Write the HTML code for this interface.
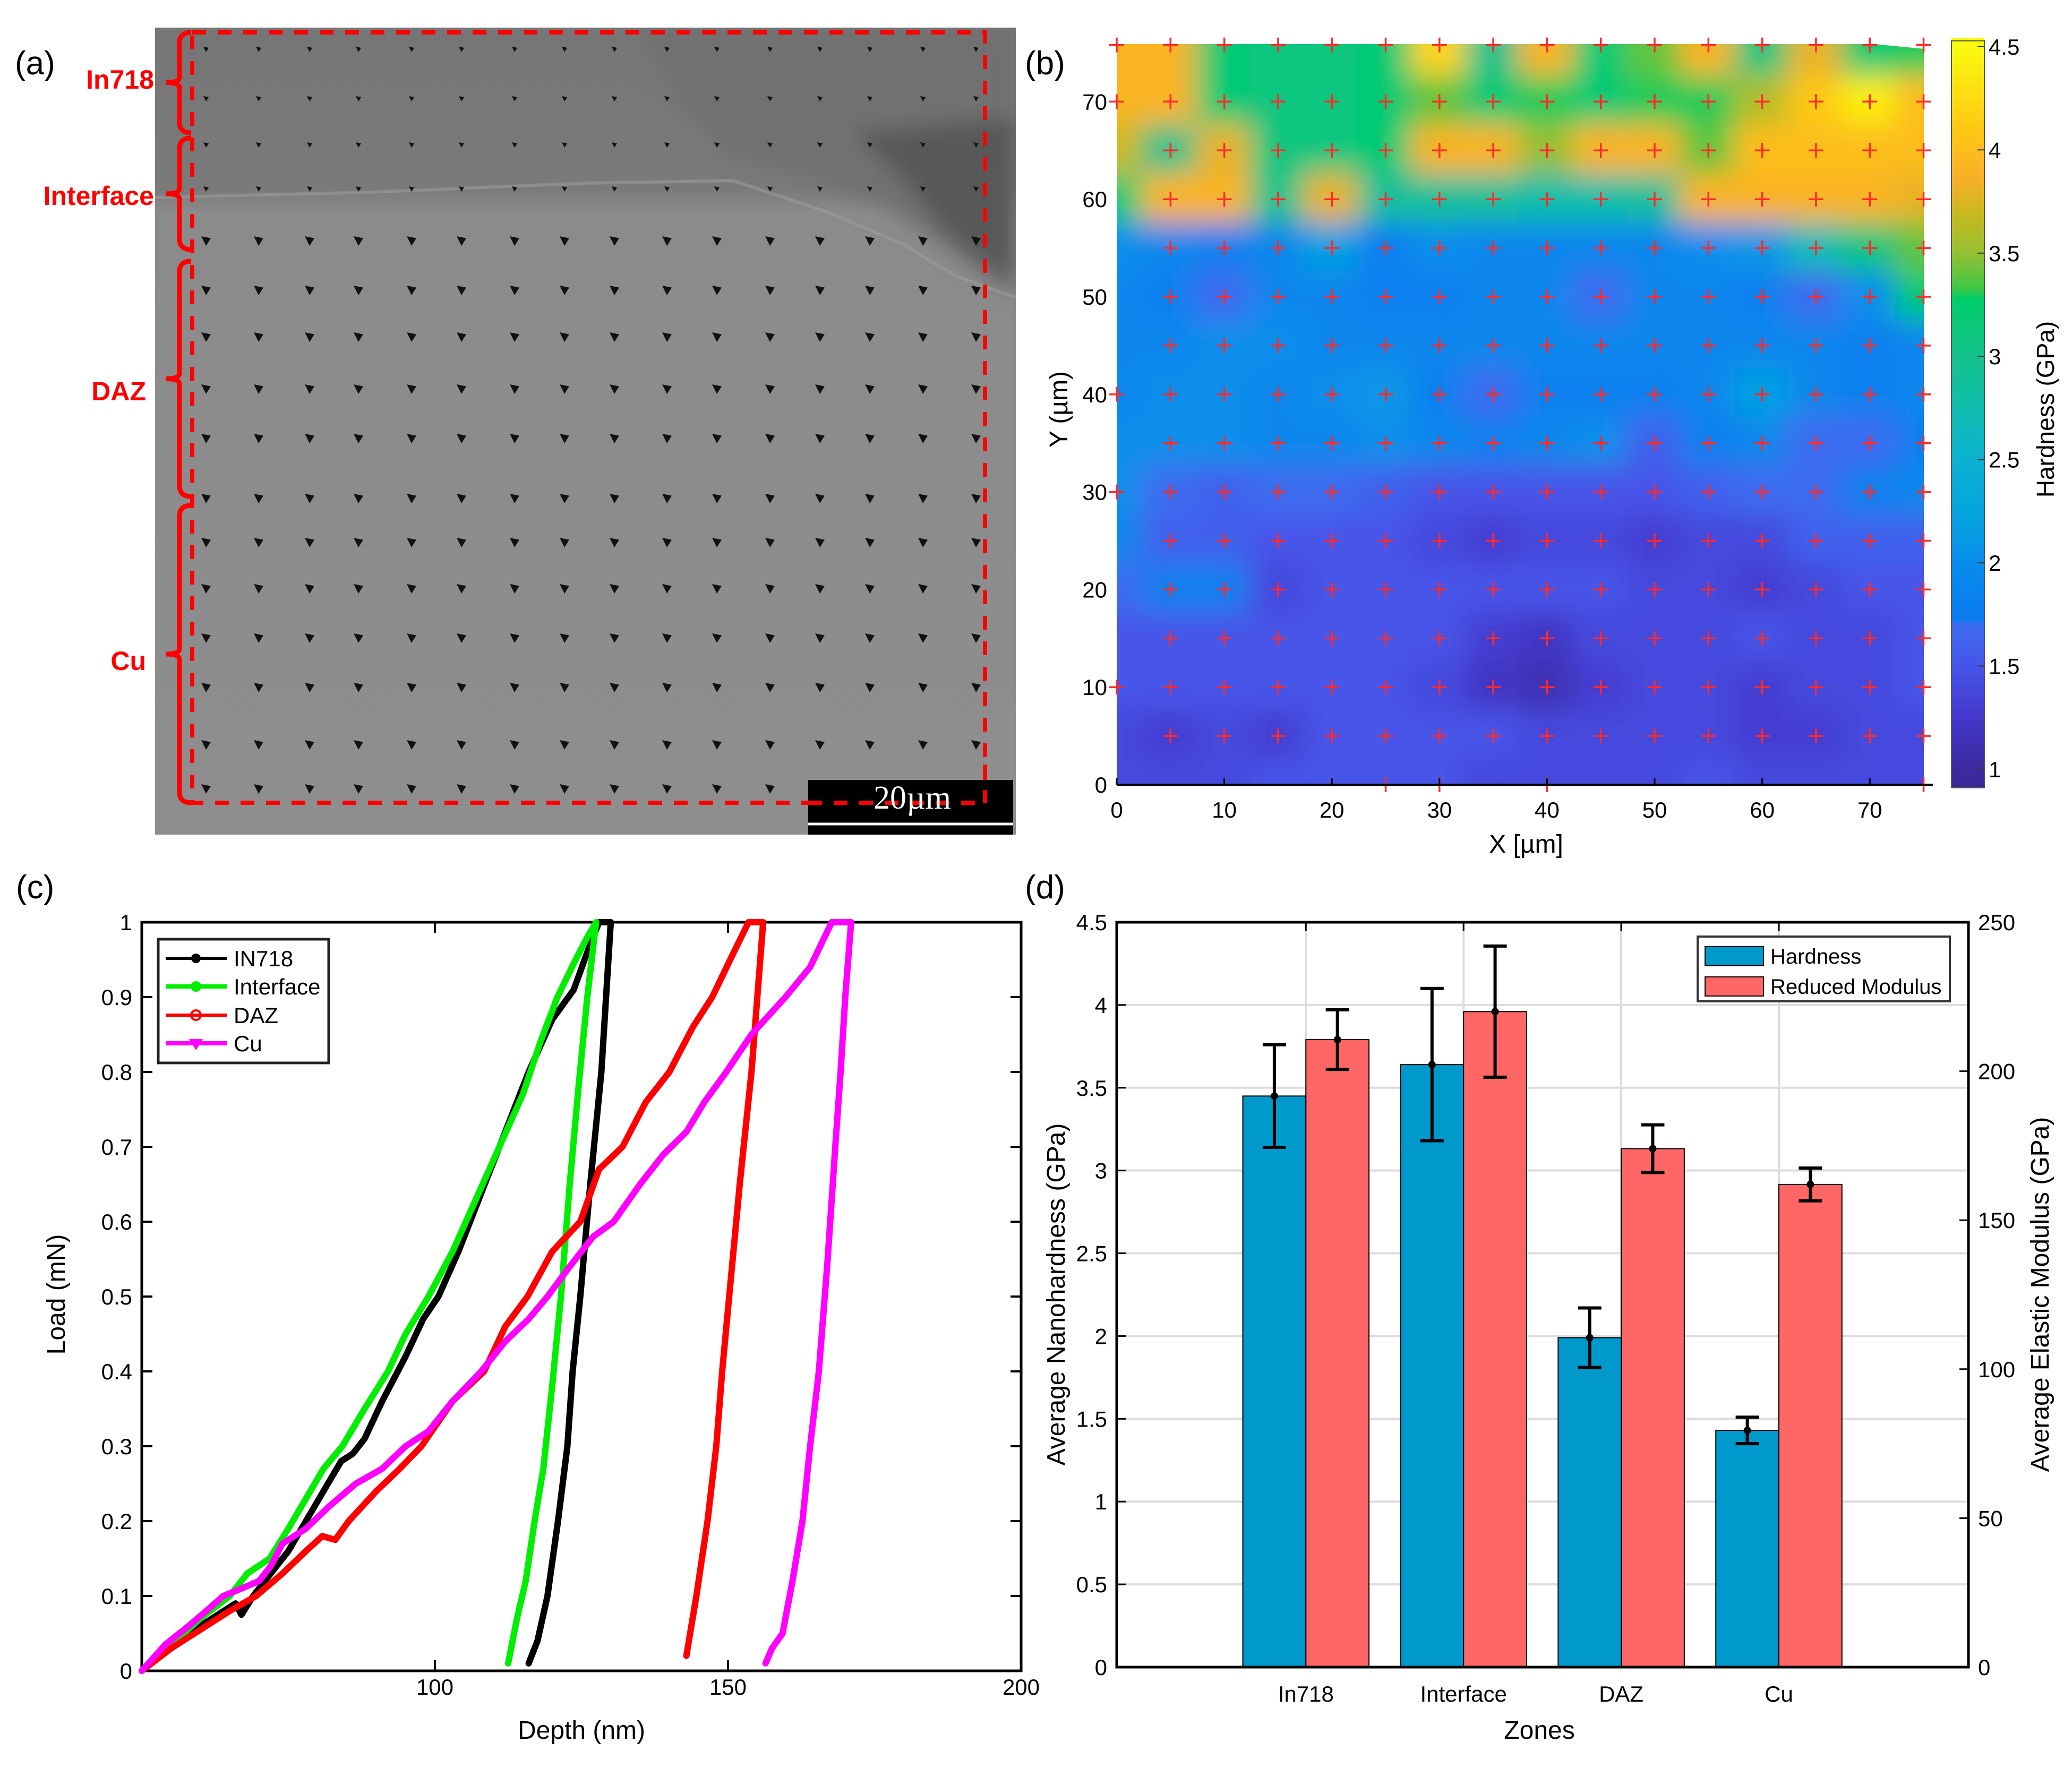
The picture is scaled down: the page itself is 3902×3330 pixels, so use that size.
<!DOCTYPE html>
<html><head><meta charset="utf-8"><title>Nanoindentation figure</title>
<style>
html,body{margin:0;padding:0;background:#fff;}
svg{display:block;font-family:"Liberation Sans",Arial,sans-serif;}
</style></head>
<body>
<svg id="fig" xmlns="http://www.w3.org/2000/svg" width="3902" height="3330" viewBox="0 0 3902 3330">
<defs>
  <filter id="blurH" x="-5%" y="-5%" width="110%" height="110%"><feGaussianBlur stdDeviation="26" edgeMode="duplicate"/></filter>
  <filter id="blurS" x="-10%" y="-10%" width="120%" height="120%"><feGaussianBlur stdDeviation="18"/></filter>
  <clipPath id="heatClip"><polygon points="2103,83 3530,83 3623,92 3623,1478 2103,1478"/></clipPath>
  <clipPath id="semClip"><rect x="292" y="52" width="1621" height="1520"/></clipPath>
  <linearGradient id="semGrad" x1="0" y1="0" x2="0" y2="1">
    <stop offset="0" stop-color="#767676"/><stop offset="0.2" stop-color="#7a7a7a"/>
    <stop offset="0.23" stop-color="#8b8b8b"/><stop offset="1" stop-color="#8e8e8e"/>
  </linearGradient>
</defs>

<!-- Panel labels -->
<text x="28" y="140" font-size="62">(a)</text>
<text x="1930" y="140" font-size="62">(b)</text>
<text x="30" y="1692" font-size="62">(c)</text>
<text x="1930" y="1692" font-size="62">(d)</text>

<!-- Panel (a) SEM -->
<g id="panelA">
  <g clip-path="url(#semClip)">
    <rect x="292" y="52" width="1621" height="1520" fill="url(#semGrad)"/>
    <g filter="url(#blurS)">
      <polygon points="1200,52 1913,52 1913,560 1850,520 1760,450 1650,380 1500,330 1380,300 1280,200" fill="#717171"/>
      <polygon points="1610,250 1913,220 1913,530 1860,500 1780,440 1700,340" fill="#595959"/>
    </g>
    <polyline points="292,372 700,362 1100,345 1380,340 1560,400 1700,460 1800,520 1913,560" fill="none" stroke="#a0a0a0" stroke-width="6" opacity="0.5"/>
    <g id="indents"></g>
  </g>
  <rect x="362" y="61" width="1493" height="1451" fill="none" stroke="#ff0000" stroke-width="8" stroke-dasharray="26,22"/>
  <g id="braces" fill="none" stroke="#ff0000" stroke-width="9"></g>
  <g font-weight="bold" font-size="50" fill="#ff0000" text-anchor="end">
    <text x="290" y="167">In718</text>
    <text x="290" y="386">Interface</text>
    <text x="275" y="754">DAZ</text>
    <text x="275" y="1262">Cu</text>
  </g>
  <rect x="1522" y="1469" width="386" height="103" fill="#000"/>
  <line x1="1522" y1="1552" x2="1908" y2="1552" stroke="#fff" stroke-width="5"/>
  <line x1="1522" y1="1512" x2="1855" y2="1512" stroke="#ff0000" stroke-width="8" stroke-dasharray="26,22"/>
  <line x1="1855" y1="1440" x2="1855" y2="1512" stroke="#ff0000" stroke-width="8" stroke-dasharray="26,22"/>
  <text x="1718" y="1523" font-family="Liberation Serif,serif" font-size="62" fill="#fff" text-anchor="middle">20µm</text>
</g>

<!-- Panel (b) heatmap -->
<g id="panelB">
  <g clip-path="url(#heatClip)"><g id="heatCells" filter="url(#blurH)"></g></g>
  <g id="heatMarks" stroke="#ff2a2a" stroke-width="3.5"></g>
  <line x1="2103" y1="1478" x2="3640" y2="1478" stroke="#000" stroke-width="4"/>
  <g id="heatTicks" font-size="42"></g>
  <text x="2874" y="1606" font-size="48" text-anchor="middle">X [µm]</text>
  <text transform="translate(2010,771) rotate(-90)" font-size="48" text-anchor="middle">Y (µm)</text>
  <g id="cbar"></g>
  <rect x="3675" y="77" width="62" height="1406" fill="none" stroke="#555" stroke-width="2"/>
  <text transform="translate(3868,771) rotate(-90)" font-size="46" text-anchor="middle">Hardness (GPa)</text>
</g>

<!-- Panel (c) load-depth -->
<g id="panelC">
  <rect x="267" y="1737" width="1656" height="1410" fill="#fff" stroke="#000" stroke-width="5"/>
  <g id="cTicks" font-size="42"></g>
  <g id="cCurves" fill="none" stroke-width="12" stroke-linejoin="round" stroke-linecap="round"></g>
  <g>
    <rect x="298" y="1769" width="321" height="233" fill="#fff" stroke="#222" stroke-width="5"/>
    <g font-size="42">
      <line x1="312" y1="1805" x2="427" y2="1805" stroke="#000" stroke-width="6"/><circle cx="369" cy="1805" r="9" fill="#000"/>
      <text x="440" y="1820">IN718</text>
      <line x1="312" y1="1858" x2="427" y2="1858" stroke="#00ee00" stroke-width="8"/><circle cx="369" cy="1858" r="10" fill="#00ee00"/>
      <text x="440" y="1873">Interface</text>
      <line x1="312" y1="1912" x2="427" y2="1912" stroke="#ff0000" stroke-width="6"/><circle cx="369" cy="1912" r="9" fill="none" stroke="#ff0000" stroke-width="4"/>
      <text x="440" y="1927">DAZ</text>
      <line x1="312" y1="1965" x2="427" y2="1965" stroke="#ff00ff" stroke-width="8"/><polygon points="356,1957 382,1957 369,1978" fill="#ff00ff"/>
      <text x="440" y="1980">Cu</text>
    </g>
  </g>
  <text x="1095" y="3275" font-size="48" text-anchor="middle">Depth (nm)</text>
  <text transform="translate(122,2438) rotate(-90)" font-size="48" text-anchor="middle">Load (mN)</text>
</g>

<!-- Panel (d) bars -->
<g id="panelD">
  <rect x="2103" y="1737" width="1604" height="1403" fill="#fff"/>
  <g id="dGrid"></g>
  <g id="dBars"></g>
  <rect x="2103" y="1737" width="1604" height="1403" fill="none" stroke="#000" stroke-width="5"/>
  <g id="dTicks" font-size="42"></g>
  <g>
    <rect x="3197" y="1764" width="475" height="122" fill="#fff" stroke="#333" stroke-width="4"/>
    <rect x="3211" y="1783" width="110" height="36" fill="#0099cc" stroke="#000" stroke-width="2"/>
    <text x="3334" y="1815" font-size="40">Hardness</text>
    <rect x="3211" y="1840" width="110" height="36" fill="#ff6666" stroke="#000" stroke-width="2"/>
    <text x="3334" y="1872" font-size="40">Reduced Modulus</text>
  </g>
  <text x="2899" y="3275" font-size="48" text-anchor="middle">Zones</text>
  <text transform="translate(2005,2438) rotate(-90)" font-size="48" text-anchor="middle">Average Nanohardness (GPa)</text>
  <text transform="translate(3858,2438) rotate(-90)" font-size="48" text-anchor="middle">Average Elastic Modulus (GPa)</text>
</g>
</svg>

<script>
// ===== Panel (b) data =====
const mapXs = [0,5,10,15,20,25,30,35,40,45,50,55,60,65,70,75];
const mapYs = [75,70,65,60,55,50,45,40,35,30,25,20,15,10,5,0];
const hardnessGrid = [
 [3.9,3.9,3.2,3.1,3.1,3.2,4.2,3.0,3.9,3.2,3.4,3.9,3.1,3.8,3.2,3.3],
 [3.9,3.9,3.2,3.1,3.1,3.2,3.4,3.2,3.3,3.2,3.3,3.3,3.6,4.1,4.4,4.0],
 [3.7,3.0,3.8,3.1,3.1,3.2,3.9,3.9,3.5,3.9,3.9,3.4,4.0,4.0,4.0,4.0],
 [3.2,3.9,3.9,3.0,3.8,2.9,2.9,2.9,2.8,2.8,2.9,3.9,3.9,3.9,3.9,3.8],
 [2.0,1.9,1.8,1.9,2.2,1.8,2.0,1.9,1.9,1.9,1.9,2.0,2.1,2.7,3.1,3.4],
 [1.9,1.8,1.7,1.9,1.9,1.8,1.8,1.9,1.9,1.7,1.9,1.9,1.8,1.7,2.0,3.2],
 [1.9,1.9,2.0,2.0,1.9,1.9,1.9,1.9,1.9,1.9,1.9,1.9,1.9,1.9,1.8,1.9],
 [1.9,2.0,2.0,1.9,2.0,2.1,1.8,1.7,1.8,1.8,1.8,1.9,2.2,1.9,1.8,1.9],
 [2.0,2.0,2.0,1.9,1.9,2.0,1.9,1.8,1.9,2.0,1.6,1.8,1.9,1.7,1.7,1.8],
 [2.0,1.7,1.6,1.7,1.7,1.6,1.5,1.5,1.5,1.5,1.5,1.6,1.7,1.7,1.8,1.9],
 [1.9,1.6,1.6,1.5,1.5,1.5,1.4,1.3,1.4,1.4,1.3,1.4,1.4,1.6,1.6,1.6],
 [1.7,1.8,1.8,1.4,1.5,1.5,1.5,1.5,1.5,1.5,1.4,1.4,1.3,1.4,1.5,1.5],
 [1.5,1.5,1.5,1.5,1.5,1.5,1.5,1.3,1.2,1.4,1.4,1.4,1.5,1.4,1.4,1.5],
 [1.5,1.5,1.5,1.5,1.5,1.5,1.4,1.2,1.1,1.3,1.4,1.4,1.3,1.4,1.4,1.5],
 [1.4,1.3,1.4,1.3,1.5,1.5,1.5,1.5,1.4,1.4,1.4,1.4,1.3,1.3,1.4,1.4],
 [1.4,1.4,1.4,1.5,1.5,1.5,1.5,1.4,1.4,1.4,1.4,1.5,1.4,1.4,1.4,1.4]
];
const mapXTicks = [0,10,20,30,40,50,60,70];
const mapYTicks = [0,10,20,30,40,50,60,70];
const cbarTicks = [1,1.5,2,2.5,3,3.5,4,4.5];

// ===== Panel (c) data =====
const in718LoadDepth = [50,55,60,64,66,67,69,72,75,78,81,84,86,88,91,95,98,100.6,104,108,112,116,120,123.7,126,128];
const in718LoadVal   = [0,0.035,0.06,0.08,0.09,0.075,0.1,0.13,0.16,0.2,0.24,0.28,0.29,0.31,0.36,0.42,0.47,0.5,0.56,0.64,0.72,0.8,0.87,0.91,0.96,1.0];
const in718UnloadDepth = [130,128.4,126.5,124.8,123.5,122.6,121,119.2,117.5,116];
const in718UnloadVal   = [1.0,0.8,0.65,0.5,0.4,0.3,0.2,0.1,0.04,0.01];
const ifaceLoadDepth = [50,55,60,65,68,71.8,75,78,81,84.2,88,92,95,98.9,103,107,111,115,118,120.9,124,126,127.5];
const ifaceLoadVal   = [0,0.035,0.07,0.1,0.13,0.15,0.19,0.23,0.27,0.3,0.35,0.4,0.45,0.5,0.56,0.63,0.7,0.77,0.84,0.9,0.95,0.98,1.0];
const ifaceUnloadDepth = [127.5,126,124.5,123,121.5,120,118.5,117,115.5,114,113.5,112.5];
const ifaceUnloadVal   = [1.0,0.9,0.78,0.65,0.5,0.38,0.27,0.2,0.12,0.07,0.05,0.01];
const dazLoadDepth = [50,55,60,65,69.5,74,78,80.8,83,85.3,90,94,97.7,103,108.4,112,115.8,120,124.8,128,132,136,140,144,147.3,151,153.5,156];
const dazLoadVal   = [0,0.03,0.055,0.08,0.1,0.13,0.16,0.18,0.175,0.2,0.24,0.27,0.3,0.36,0.4,0.46,0.5,0.56,0.6,0.67,0.7,0.76,0.8,0.86,0.9,0.96,1.0,1.0];
const dazUnloadDepth = [156,155,154,152,150.2,149,148,146.5,144.6,142.9];
const dazUnloadVal   = [1.0,0.9,0.8,0.65,0.5,0.4,0.3,0.2,0.1,0.02];
const cuLoadDepth = [50,54,58,61,63.9,67,70,72,74,78,82,86.5,91,95,98.9,103,107.9,112,116,119.2,123,127,130.5,135,139,142.9,146,149.7,154,159.8,164,167.7,171];
const cuLoadVal   = [0,0.035,0.06,0.08,0.1,0.11,0.12,0.14,0.17,0.19,0.22,0.25,0.27,0.3,0.32,0.36,0.4,0.44,0.47,0.5,0.54,0.58,0.6,0.65,0.69,0.72,0.76,0.8,0.85,0.9,0.94,1.0,1.0];
const cuUnloadDepth = [171,170,169.2,168.3,167,165.5,164,162.7,161,159.3,157.5,156.4];
const cuUnloadVal   = [1.0,0.9,0.8,0.7,0.55,0.4,0.3,0.2,0.12,0.05,0.03,0.01];
const depthTicks = [100,150,200];
const loadTicks = [0,0.1,0.2,0.3,0.4,0.5,0.6,0.7,0.8,0.9,1];

// ===== Panel (d) data =====
const zones = ["In718","Interface","DAZ","Cu"];
const hardnessVals = [3.45,3.64,1.99,1.43];
const hardnessErr  = [0.31,0.46,0.18,0.08];
const modulusVals  = [210.6,220,174,162];
const modulusErr   = [10,22,8,5.5];
const leftTicks = [0,0.5,1,1.5,2,2.5,3,3.5,4,4.5];
const rightTicks = [0,50,100,150,200,250];

const NS = "http://www.w3.org/2000/svg";
function mk(tag, attrs, parent, text){
  const e = document.createElementNS(NS, tag);
  for (const k in attrs) e.setAttribute(k, attrs[k]);
  if (text !== undefined) e.textContent = text;
  parent.appendChild(e);
  return e;
}
const $ = id => document.getElementById(id);

// ---------- Panel (a) decorations ----------
(function(){
  const g = $('indents');
  const cols = [388,487,583,675,775,869,969,1063,1157,1256,1350,1450,1544,1638,1738,1838];
  const rows = [93,186,273,356,454,547,635,733,826,939,1022,1109,1202,1295,1403,1486];
  rows.forEach((y,ri)=>{
    cols.forEach((x,ci)=>{
      const s = ri < 4 ? 5 : 9;
      const p = mk('polygon',{points:`${x-s},${y-s} ${x+s},${y-s*0.6} ${x},${y+s}`, fill:'#111'}, g);
      
      
    });
  });
  const b = $('braces');
  const spans = [[61,250],[260,470],[492,935],[952,1512]];
  spans.forEach(([a,c])=>{
    const m = (a+c)/2, x=338;
    const p = mk('path',{d:`M360,${a} Q${x},${a} ${x},${a+20} L${x},${m-10} Q${x},${m} 312,${m} Q${x},${m} ${x},${m+10} L${x},${c-20} Q${x},${c} 360,${c}`}, b);
    
    
  });
})();

// ---------- Panel (b) ----------
const bx = v => 2103 + v*20.26;
const by = v => 1478 - v*18.38;
const cmapStops = [[0.9,[58,38,150]],[1.0,[60,42,160]],[1.25,[68,56,205]],[1.5,[70,85,232]],[1.7,[60,108,240]],[1.72,[10,122,240]],[2.0,[8,142,236]],[2.25,[5,165,222]],[2.5,[10,178,208]],[2.75,[16,190,175]],[3.0,[20,194,140]],[3.28,[0,205,105]],[3.32,[60,200,70]],[3.5,[150,192,50]],[3.7,[205,185,30]],[3.85,[248,175,40]],[4.1,[255,200,20]],[4.5,[250,250,15]]];
function cmap(v){
  if (v <= cmapStops[0][0]) return `rgb(${cmapStops[0][1]})`;
  for (let i=1;i<cmapStops.length;i++){
    if (v <= cmapStops[i][0]){
      const [v0,c0]=cmapStops[i-1],[v1,c1]=cmapStops[i];
      const t=(v-v0)/(v1-v0);
      return `rgb(${c0.map((c,j)=>Math.round(c+(c1[j]-c)*t)).join(',')})`;
    }
  }
  return `rgb(${cmapStops[cmapStops.length-1][1]})`;
}
(function(){
  const g = $('heatCells');
  const hx = 2.5, pad = 3;
  mapYs.forEach((yv,ri)=>{
    mapXs.forEach((xv,ci)=>{
      let x0 = bx(xv-hx), x1 = bx(xv+hx), y0 = by(yv+hx), y1 = by(yv-hx);
      if (ci===0) x0 -= 80; if (ci===mapXs.length-1) x1 += 80;
      if (ri===0) y0 -= 80; if (ri===mapYs.length-1) y1 += 80;
      const r = mk('rect',{x:x0-pad,y:y0-pad,width:x1-x0+2*pad,height:y1-y0+2*pad,fill:cmap(hardnessGrid[ri][ci])}, g);
      
      
    });
  });
  const m = $('heatMarks');
  mapYs.forEach(yv=>{
    mapXs.forEach(xv=>{
      if (xv===0 && [75,70,40,30,10].indexOf(yv)<0) return;
      if (yv===0 && [25,30,40,75].indexOf(xv)<0) return;
      const cx = bx(xv), cy = by(yv===75?75.8:yv);
      const p = mk('path',{d:`M${cx-14},${cy} H${cx+14} M${cx},${cy-14} V${cy+14}`}, m);
      
      
    });
  });
  const t = $('heatTicks');
  mapXTicks.forEach(v=>{
    mk('line',{x1:bx(v),y1:1478,x2:bx(v),y2:1466,stroke:'#000','stroke-width':3}, t);
    const e = mk('text',{x:bx(v),y:1540,'text-anchor':'middle'}, t, String(v));
    
    
  });
  mapYTicks.forEach(v=>{
    const e = mk('text',{x:2085,y:by(v)+15,'text-anchor':'end'}, t, String(v));
    
    
  });
  const cb = $('cbar');
  const cy = v => 1449 - (v-1)*388.9;
  for (let v=0.91; v<4.53; v+=0.01){
    mk('rect',{x:3675,y:cy(v+0.01)-0.5,width:62,height:4.9,fill:cmap(v)}, cb);
  }
  cbarTicks.forEach(v=>{
    mk('line',{x1:3724,y1:cy(v),x2:3737,y2:cy(v),stroke:'#333','stroke-width':2}, cb);
    const e = mk('text',{x:3745,y:cy(v)+15,'font-size':42}, cb, String(v));
    
    
  });
})();

// ---------- Panel (c) ----------
const cx = d => 267 + (d-50)*11.04;
const cy = l => 3147 - l*1410;
(function(){
  const t = $('cTicks');
  loadTicks.forEach(v=>{
    mk('line',{x1:267,y1:cy(v),x2:287,y2:cy(v),stroke:'#000','stroke-width':4}, t);
    mk('line',{x1:1923,y1:cy(v),x2:1903,y2:cy(v),stroke:'#000','stroke-width':4}, t);
    const e = mk('text',{x:249,y:cy(v)+15,'text-anchor':'end'}, t, String(v));
    
    
  });
  depthTicks.forEach(v=>{
    mk('line',{x1:cx(v),y1:3147,x2:cx(v),y2:3127,stroke:'#000','stroke-width':4}, t);
    mk('line',{x1:cx(v),y1:1737,x2:cx(v),y2:1757,stroke:'#000','stroke-width':4}, t);
    const e = mk('text',{x:cx(v),y:3192,'text-anchor':'middle'}, t, String(v));
    
    
  });
  const g = $('cCurves');
  const series = [
    ['interface',ifaceLoadDepth,ifaceLoadVal,ifaceUnloadDepth,ifaceUnloadVal,'#00ee00'],
    ['in718',in718LoadDepth,in718LoadVal,in718UnloadDepth,in718UnloadVal,'#000000'],
    ['daz',dazLoadDepth,dazLoadVal,dazUnloadDepth,dazUnloadVal,'#ff0000'],
    ['cu',cuLoadDepth,cuLoadVal,cuUnloadDepth,cuUnloadVal,'#ff00ff']
  ];
  const order = [1,0,2,3];
  order.forEach(i=>{
    const [n,ld,lv,ud,uv,col] = series[i];
    const pts = ld.map((d,k)=>`${cx(d).toFixed(1)},${cy(lv[k]).toFixed(1)}`).concat(ud.map((d,k)=>`${cx(d).toFixed(1)},${cy(uv[k]).toFixed(1)}`)).join(' ');
    const p = mk('polyline',{points:pts,stroke:col}, g);
    
    
  });
})();

// ---------- Panel (d) ----------
const dx = c => 2103 + (c+0.2)*296.9;
const dyL = v => 3140 - v*(1403/4.5);
const dyR = v => 3140 - v*(1403/250);
(function(){
  const gr = $('dGrid');
  leftTicks.forEach(v=>{ if(v>0&&v<4.5) mk('line',{x1:2103,y1:dyL(v),x2:3707,y2:dyL(v),stroke:'#dcdcdc','stroke-width':4}, gr); });
  zones.forEach((z,i)=>mk('line',{x1:dx(i+1),y1:1737,x2:dx(i+1),y2:3140,stroke:'#dcdcdc','stroke-width':4}, gr));
  const g = $('dBars');
  const bw = 0.4*296.9;
  zones.forEach((z,i)=>{
    const c = dx(i+1);
    const h = hardnessVals[i];
    const b1 = mk('rect',{x:c-bw,y:dyL(h),width:bw,height:3140-dyL(h),fill:'#0099cc',stroke:'#000','stroke-width':2}, g);
    
    
    const m = modulusVals[i];
    const b2 = mk('rect',{x:c,y:dyR(m),width:bw,height:3140-dyR(m),fill:'#ff6666',stroke:'#000','stroke-width':2}, g);
    
    
    const eb = (x, yc, y0, y1, nm)=>{
      const e = mk('path',{d:`M${x},${y0} V${y1} M${x-22},${y0} H${x+22} M${x-22},${y1} H${x+22}`,stroke:'#000','stroke-width':6,fill:'none'}, g);
      
      
      mk('circle',{cx:x,cy:yc,r:7,fill:'#000'}, g);
    };
    eb(c-bw/2, dyL(h), dyL(h+hardnessErr[i]), dyL(h-hardnessErr[i]), 'error-bar-hardness');
    eb(c+bw/2, dyR(m), dyR(m+modulusErr[i]), dyR(m-modulusErr[i]), 'error-bar-modulus');
  });
  const t = $('dTicks');
  leftTicks.forEach(v=>{
    mk('line',{x1:2103,y1:dyL(v),x2:2120,y2:dyL(v),stroke:'#000','stroke-width':3}, t);
    const e = mk('text',{x:2085,y:dyL(v)+15,'text-anchor':'end'}, t, String(v));
    
    
  });
  rightTicks.forEach(v=>{
    mk('line',{x1:3707,y1:dyR(v),x2:3690,y2:dyR(v),stroke:'#000','stroke-width':3}, t);
    const e = mk('text',{x:3725,y:dyR(v)+15}, t, String(v));
    
    
  });
  zones.forEach((z,i)=>{
    mk('line',{x1:dx(i+1),y1:1737,x2:dx(i+1),y2:1754,stroke:'#000','stroke-width':3}, t);
    const e = mk('text',{x:dx(i+1),y:3205,'text-anchor':'middle'}, t, z);
    
    
  });
})();
</script>
</body></html>
